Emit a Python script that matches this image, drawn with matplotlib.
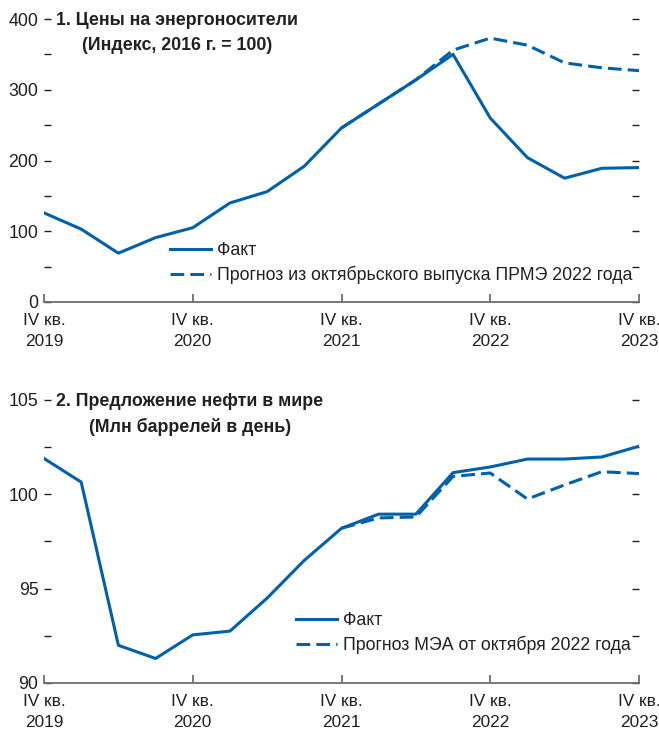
import matplotlib.pyplot as plt
from matplotlib.ticker import MultipleLocator
from matplotlib.lines import Line2D
from matplotlib.transforms import offset_copy

plt.rcParams['font.family'] = ['Liberation Sans', 'DejaVu Sans']

# Quarters IV 2019 ... IV 2023 (17 points)
quarters = list(range(17))
tick_pos = [0, 4, 8, 12, 16]
tick_labels = ["IV кв.\n2019", "IV кв.\n2020", "IV кв.\n2021", "IV кв.\n2022", "IV кв.\n2023"]

# Panel 1: energy prices, index 2016 = 100
energy_fact = [126, 103, 69, 91, 105, 140, 156, 192, 246, 280, 314, 350, 260, 204, 175, 189, 190]
energy_fcst_x = [8, 9, 10, 11, 12, 13, 14, 15, 16]
energy_fcst = [246, 280, 314, 356, 373, 363, 338, 331, 327]

# Panel 2: world oil supply, mb/d
oil_fact = [101.9, 100.65, 92.0, 91.3, 92.55, 92.75, 94.5, 96.5, 98.2, 98.95, 98.95,
            101.15, 101.45, 101.87, 101.87, 101.98, 102.55]
oil_fcst_x = [8, 9, 10, 11, 12, 13, 14, 15, 16]
oil_fcst = [98.2, 98.75, 98.8, 100.95, 101.13, 99.75, 100.5, 101.2, 101.1]

blue = '#0061AA'
text_c = '#231F20'
axis_c = '#6D6E71'
fs = 12.8

fig = plt.figure(figsize=(6.59, 7.34), dpi=100)
W, H = 659, 734
ax1 = fig.add_axes([44 / W, 1 - 302 / H, 595 / W, 283 / H])
ax2 = fig.add_axes([44 / W, 1 - 683 / H, 595 / W, 283 / H])


def style(ax, ymin, ymax, major, minor):
    ax.set_xlim(0, 16)
    ax.set_ylim(ymin, ymax)
    for s in ['left', 'right', 'top']:
        ax.spines[s].set_visible(False)
    ax.spines['bottom'].set_color(axis_c)
    ax.spines['bottom'].set_linewidth(1.3)
    ax.set_xticks(tick_pos)
    ax.set_xticklabels(tick_labels, fontsize=12.4, color=text_c, linespacing=1.45)
    ax.tick_params(axis='x', direction='in', length=6, width=1.3, color=axis_c, pad=8)
    ax.yaxis.set_major_locator(MultipleLocator(major))
    ax.yaxis.set_minor_locator(MultipleLocator(minor))
    ax.tick_params(axis='y', which='both', left=True, right=True, direction='in',
                   length=5, width=1, color=text_c, labelsize=fs, labelcolor=text_c, pad=4)


def add_legend(ax, labels, x, y):
    ax.legend(handles=[Line2D([], [], color=blue, lw=2.2),
                       Line2D([], [], color=blue, lw=2.2, dashes=(4.5, 2))],
              labels=labels, loc='upper left', bbox_to_anchor=(x / W, 1 - y / H),
              bbox_transform=fig.transFigure, frameon=False, fontsize=fs,
              handlelength=2.3, handletextpad=0.35, borderpad=0, borderaxespad=0,
              labelspacing=0.4, labelcolor=text_c)


style(ax1, 0, 400, 100, 50)
ax1.plot(quarters, energy_fact, color=blue, lw=2.2)
ax1.plot(energy_fcst_x, energy_fcst, color=blue, lw=2.2, dashes=(4.5, 2))
ax1.text(0.33, 400, "1. Цены на энергоносители\n(Индекс, 2016 г. = 100)", fontsize=fs,
         fontweight='bold', color=text_c, va='top', ha='left', multialignment='center',
         linespacing=1.6, transform=offset_copy(ax1.transData, fig=fig, y=7, units='dots'))
add_legend(ax1, ["Факт", "Прогноз из октябрьского выпуска ПРМЭ 2022 года"], 170, 242)

style(ax2, 90, 105, 5, 2.5)
ax2.plot(quarters, oil_fact, color=blue, lw=2.2)
ax2.plot(oil_fcst_x, oil_fcst, color=blue, lw=2.2, dashes=(4.5, 2))
ax2.text(0.33, 105, "2. Предложение нефти в мире\n(Млн баррелей в день)", fontsize=fs,
         fontweight='bold', color=text_c, va='top', ha='left', multialignment='center',
         linespacing=1.6, transform=offset_copy(ax2.transData, fig=fig, y=7, units='dots'))
add_legend(ax2, ["Факт", "Прогноз МЭА от октября 2022 года"], 296, 612)

fig.savefig("out.png", dpi=100)
